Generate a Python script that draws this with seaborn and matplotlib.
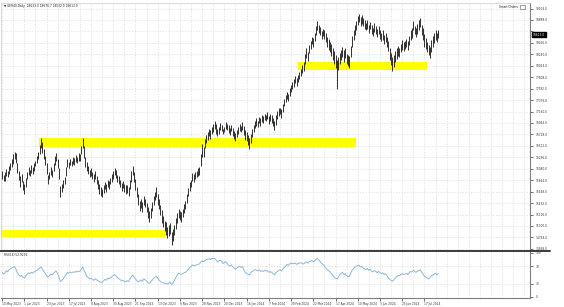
import numpy as np
import pandas as pd
import matplotlib
matplotlib.use("Agg")
import matplotlib.pyplot as plt
import matplotlib.transforms as mtransforms
from matplotlib.patches import Rectangle
import seaborn as sns

# ---------------- data ----------------
symbol_title = "\u25BC GER40,Daily  18633.0 18670.7 18532.0 18613.0"
rsi_title = "RSI(14) 52.9236"
corner_label = "Smart Orders"
last_price = 18613.0

date_labels = ["10 May 2023", "1 Jun 2023", "23 Jun 2023", "17 Jul 2023", "8 Aug 2023",
               "30 Aug 2023", "21 Sep 2023", "13 Oct 2023", "6 Nov 2023", "28 Nov 2023",
               "20 Dec 2023", "16 Jan 2024", "7 Feb 2024", "29 Feb 2024", "22 Mar 2024",
               "17 Apr 2024", "10 May 2024", "3 Jun 2024", "25 Jun 2024", "17 Jul 2024"]
bars_per_label = 16

price_levels = [14568, 14784, 15000, 15216, 15432, 15648, 15864, 16080, 16296, 16512, 16728,
                16944, 17160, 17376, 17592, 17808, 18024, 18240, 18456, 18672, 18888, 19104]
rsi_levels = [0, 30, 70, 100]

# bar mid prices (one per daily bar)
mids = [
    15960, 15900, 15940, 16010, 15980, 16060, 16120, 16190, 16260, 16330,
    16280, 16100, 15950, 15840, 15900, 15760, 15690, 15820, 15950, 16040,
    16000, 16080, 16040, 16110, 16180, 16250, 16330, 16440, 16560, 16480,
    16360, 16240, 16080, 15880, 15950, 16040, 15990, 16120, 16230, 16300,
    16180, 15990, 15650, 15720, 15790, 15860, 16020, 16190, 16150, 16210,
    16180, 16240, 16220, 16270, 16250, 16310, 16290, 16430, 16560, 16400,
    16210, 16130, 16060, 15990, 16020, 15950, 15900, 15960, 15870, 15780,
    15700, 15650, 15630, 15700, 15760, 15720, 15800, 15770, 15850, 15900,
    15960, 16030, 15980, 15900, 15870, 15800, 15740, 15780, 15720, 15680,
    15700, 15650, 15780, 15930, 16050, 15930, 15790, 15640, 15500, 15380,
    15420, 15360, 15480, 15440, 15350, 15260, 15180, 15250, 15360, 15480,
    15570, 15640, 15500, 15420, 15300, 15180, 15090, 15000, 14950, 14880,
    14920, 14960, 14760, 14830, 14930, 15050, 15150, 15240, 15200, 15170,
    15250, 15330, 15400, 15520, 15640, 15740, 15800, 15920, 15900, 15960,
    15980, 16020, 16040, 16250, 16430, 16400, 16560, 16640, 16700, 16760,
    16720, 16800, 16850, 16910, 16830, 16760, 16800, 16870, 16850, 16780,
    16820, 16900, 16870, 16830, 16780, 16850, 16770, 16720, 16680, 16740,
    16800, 16860, 16830, 16890, 16800, 16720, 16680, 16620, 16560, 16650,
    16750, 16840, 16910, 16960, 16930, 17000, 16960, 17030, 17010, 17060,
    17040, 17080, 17000, 17050, 17020, 16960, 16900, 17000, 17100, 17150,
    17170, 17120, 17230, 17330, 17400, 17460, 17420, 17520, 17600, 17650,
    17700, 17760, 17720, 17780, 17840, 17900, 17960, 18010, 18150, 18260,
    18200, 18340, 18420, 18500, 18460, 18560, 18680, 18780, 18720, 18680,
    18600, 18650, 18620, 18560, 18480, 18420, 18380, 18320, 18250, 18180,
    18100, 17860, 18060, 18160, 18220, 18280, 18210, 18260, 18160, 18120,
    18100, 18300, 18480, 18600, 18700, 18780, 18880, 18930, 18860, 18900,
    18850, 18800, 18760, 18800, 18720, 18780, 18700, 18660, 18750, 18700,
    18640, 18700, 18620, 18560, 18600, 18520, 18560, 18480, 18400, 18250,
    18150, 18050, 18120, 18200, 18260, 18300, 18280, 18360, 18420, 18380,
    18420, 18460, 18400, 18500, 18600, 18650, 18780, 18700, 18650, 18720,
    18800, 18840, 18700, 18620, 18500, 18440, 18380, 18320, 18280, 18400,
    18480, 18540, 18600, 18560, 18620,
]

# daily high-low range of each bar
spans = [
    150, 120, 170, 140, 110, 160, 130, 150, 180, 140, 200, 190, 160, 210, 150, 170, 190, 160, 140, 150,
    120, 150, 130, 160, 110, 140, 150, 170, 190, 210, 180, 160, 200, 170, 140, 160, 130, 150, 170, 140,
    180, 200, 220, 160, 150, 140, 170, 150, 130, 120, 110, 140, 120, 130, 110, 150, 130, 160, 190, 220,
    200, 170, 150, 140, 160, 130, 150, 140, 160, 170, 190, 160, 150, 140, 130, 150, 120, 140, 130, 150,
    160, 140, 150, 130, 150, 140, 160, 130, 150, 170, 140, 160, 180, 200, 170, 190, 210, 200, 220, 180,
    160, 190, 170, 150, 180, 200, 220, 190, 170, 180, 160, 190, 210, 180, 200, 230, 210, 190, 240, 220,
    200, 210, 250, 230, 190, 200, 180, 170, 160, 190, 150, 170, 160, 180, 150, 170, 140, 160, 150, 130,
    120, 140, 150, 230, 250, 180, 170, 160, 150, 140, 170, 130, 150, 160, 180, 140, 120, 130, 110, 100,
    110, 130, 120, 140, 130, 120, 150, 140, 160, 130, 120, 140, 130, 150, 160, 180, 170, 200, 210, 160,
    150, 140, 130, 160, 120, 130, 140, 120, 130, 110, 120, 140, 150, 130, 140, 160, 170, 180, 150, 140,
    130, 160, 140, 150, 130, 120, 140, 150, 130, 120, 140, 130, 150, 120, 140, 130, 150, 160, 190, 180,
    170, 160, 150, 140, 160, 150, 170, 180, 160, 150, 160, 140, 170, 180, 190, 200, 180, 210, 220, 230,
    240, 560, 250, 210, 190, 200, 220, 180, 190, 200, 230, 210, 200, 190, 180, 170, 160, 150, 170, 160,
    150, 170, 140, 160, 150, 140, 170, 150, 160, 140, 150, 160, 170, 150, 180, 170, 160, 190, 200, 220,
    240, 260, 230, 210, 200, 180, 170, 160, 180, 170, 160, 150, 170, 160, 180, 190, 170, 160, 180, 200,
    190, 170, 200, 220, 230, 210, 200, 190, 210, 220, 200, 190, 180, 170, 160,
]

rsi_values = [
    56, 52, 55, 60, 57, 62, 64, 66, 68, 69,
    63, 55, 50, 47, 49, 45, 43, 48, 52, 55,
    53, 56, 54, 57, 59, 60, 63, 66, 68, 63,
    58, 54, 49, 45, 48, 52, 50, 54, 57, 59,
    53, 44, 35, 38, 41, 46, 51, 56, 54, 57,
    55, 57, 56, 58, 57, 59, 58, 63, 68, 60,
    54, 47, 44, 41, 43, 40, 38, 41, 39, 37,
    35, 34, 33, 37, 40, 38, 43, 41, 44, 46,
    49, 51, 48, 44, 42, 39, 37, 38, 35, 34,
    37, 35, 41, 46, 50, 45, 41, 37, 34, 36,
    39, 36, 41, 39, 36, 33, 31, 34, 38, 42,
    45, 47, 42, 39, 35, 33, 32, 31, 30, 29,
    32, 34, 28, 31, 38, 44, 49, 54, 52, 51,
    53, 55, 56, 59, 63, 67, 69, 73, 71, 72,
    73, 74, 75, 79, 82, 80, 83, 85, 86, 87,
    85, 88, 87, 88, 84, 80, 82, 84, 81, 76,
    78, 80, 76, 72, 70, 73, 69, 66, 63, 66,
    68, 70, 67, 69, 62, 56, 53, 52, 50, 55,
    58, 60, 62, 61, 59, 62, 58, 60, 58, 61,
    59, 60, 56, 58, 56, 53, 50, 55, 58, 60,
    62, 59, 63, 67, 70, 74, 72, 75, 77, 76,
    76, 77, 74, 76, 77, 78, 76, 75, 78, 80,
    77, 80, 81, 83, 80, 82, 85, 88, 84, 80,
    76, 74, 70, 66, 62, 60, 57, 53, 49, 45,
    43, 41, 45, 50, 54, 56, 51, 53, 48, 46,
    47, 55, 61, 65, 68, 70, 71, 72, 68, 69,
    66, 64, 62, 65, 60, 63, 59, 57, 60, 58,
    55, 58, 55, 53, 55, 51, 53, 48, 44, 40,
    38, 36, 39, 43, 46, 49, 48, 51, 53, 51,
    52, 54, 51, 55, 58, 57, 61, 58, 56, 59,
    60, 62, 56, 52, 47, 45, 43, 41, 44, 48,
    50, 52, 54, 51, 53,
]

# support / resistance zones (bar range, price range)
zone_start_bar = [0, 27, 214]
zone_end_bar = [118, 255, 306]
zone_low = [14792, 16490, 17944]
zone_high = [14925, 16660, 18095]

assert len(mids) == len(spans) == len(rsi_values), (len(mids), len(spans), len(rsi_values))

# ---------------- frame ----------------
n = len(mids)
df = pd.DataFrame({"bar": np.arange(n), "mid": mids, "span": spans, "rsi": rsi_values})
df["low"] = df["mid"] - df["span"] / 2
df["high"] = df["mid"] + df["span"] / 2

sns.set_style("white")
plt.rcParams["font.family"] = ["DejaVu Sans"]

W, H = 564, 307
fig = plt.figure(figsize=(W / 100, H / 100), dpi=100)
fig.patch.set_facecolor("white")

left_px, right_px = 1, 530
main_top, main_bot = 3, 250
rsi_top, rsi_bot = 251, 298

def frac_box(top, bot):
    return [left_px / W, 1 - bot / H, (right_px - left_px) / W, (bot - top) / H]

ax = fig.add_axes(frac_box(main_top, main_bot))
rax = fig.add_axes(frac_box(rsi_top, rsi_bot), sharex=ax)

x_max = 380
grid_kw = dict(color="#dcdcdc", lw=0.5, ls=(0, (2, 2)), zorder=0)
small = 2.1

for a in (ax, rax):
    a.set_facecolor("white")
    for gx in range(0, x_max + 1, 8):
        a.axvline(gx, **grid_kw)

for p in price_levels:
    ax.axhline(p, **grid_kw)

# zones
for s, e, lo, hi in zip(zone_start_bar, zone_end_bar, zone_low, zone_high):
    ax.fill_between([s - 0.8, e], lo, hi, color="#ffff00", lw=0, zorder=1)

# bars
ax.vlines(df["bar"], df["low"], df["high"], color="#111111", lw=0.6, zorder=3)

ax.set_xlim(-0.8, x_max)
ax.set_ylim(14547, 19208)

# price scale
ax.yaxis.tick_right()
ax.set_yticks(price_levels)
ylabels = []
for p in price_levels:
    ylabels.append("" if abs(p - last_price) < 120 else f"{p:.1f}")
ax.set_yticklabels(ylabels)
ax.tick_params(axis="y", right=True, length=2, width=0.5, pad=2, labelsize=small,
               colors="#333333")
ax.tick_params(axis="x", bottom=False, labelbottom=False)

ax.annotate(f"{last_price:.1f}", xy=(1.0, last_price),
            xycoords=mtransforms.blended_transform_factory(ax.transAxes, ax.transData),
            xytext=(2, 0), textcoords="offset points", ha="left", va="center",
            fontsize=small, color="white",
            bbox=dict(boxstyle="square,pad=0.3", fc="black", ec="black"))

ax.text(0.006, 0.994, symbol_title, transform=ax.transAxes, ha="left", va="top",
        fontsize=small, color="#222222")
ax.text(0.978, 0.99, corner_label, transform=ax.transAxes, ha="right", va="top",
        fontsize=small, color="#222222")
ax.add_patch(Rectangle((0.981, 0.975), 0.01, 0.017, transform=ax.transAxes,
                       fill=False, ec="#555555", lw=0.4))

for side in ("top", "left"):
    ax.spines[side].set_color("#cccccc")
    ax.spines[side].set_linewidth(0.5)
ax.spines["right"].set_color("#7f7f7f")
ax.spines["right"].set_linewidth(0.8)
ax.spines["bottom"].set_visible(False)

# separator between panels
fig.add_artist(plt.Line2D([0, 550 / W], [1 - 250.5 / H, 1 - 250.5 / H],
                          color="#3a3a3a", lw=1.4, transform=fig.transFigure))

# RSI panel
sns.lineplot(data=df, x="bar", y="rsi", ax=rax, color="#8db6dc", lw=0.7, zorder=3)
for lvl in (30, 70):
    rax.axhline(lvl, **grid_kw)
rax.set_ylim(-2.3, 104.5)
rax.set_xlim(-0.8, x_max)
rax.yaxis.tick_right()
rax.set_yticks(rsi_levels)
rax.set_yticklabels([str(v) for v in rsi_levels])
rax.tick_params(axis="y", right=True, length=2, width=0.5, pad=2, labelsize=small,
                colors="#333333")
rax.set_ylabel("")
rax.set_xlabel("")
rax.text(0.006, 0.96, rsi_title, transform=rax.transAxes, ha="left", va="top",
         fontsize=small, color="#222222")

tick_pos = [k * bars_per_label for k in range(len(date_labels))]
rax.set_xticks(tick_pos)
rax.set_xticklabels(date_labels)
for t in rax.get_xticklabels():
    t.set_ha("left")
rax.tick_params(axis="x", bottom=True, length=2, width=0.5, pad=1.0, labelsize=small,
                colors="#333333")

for side in ("top", "left"):
    rax.spines[side].set_visible(False)
rax.spines["right"].set_color("#7f7f7f")
rax.spines["right"].set_linewidth(0.8)
rax.spines["bottom"].set_color("#7f7f7f")
rax.spines["bottom"].set_linewidth(0.8)

fig.savefig("out.png", dpi=100, facecolor="white")
